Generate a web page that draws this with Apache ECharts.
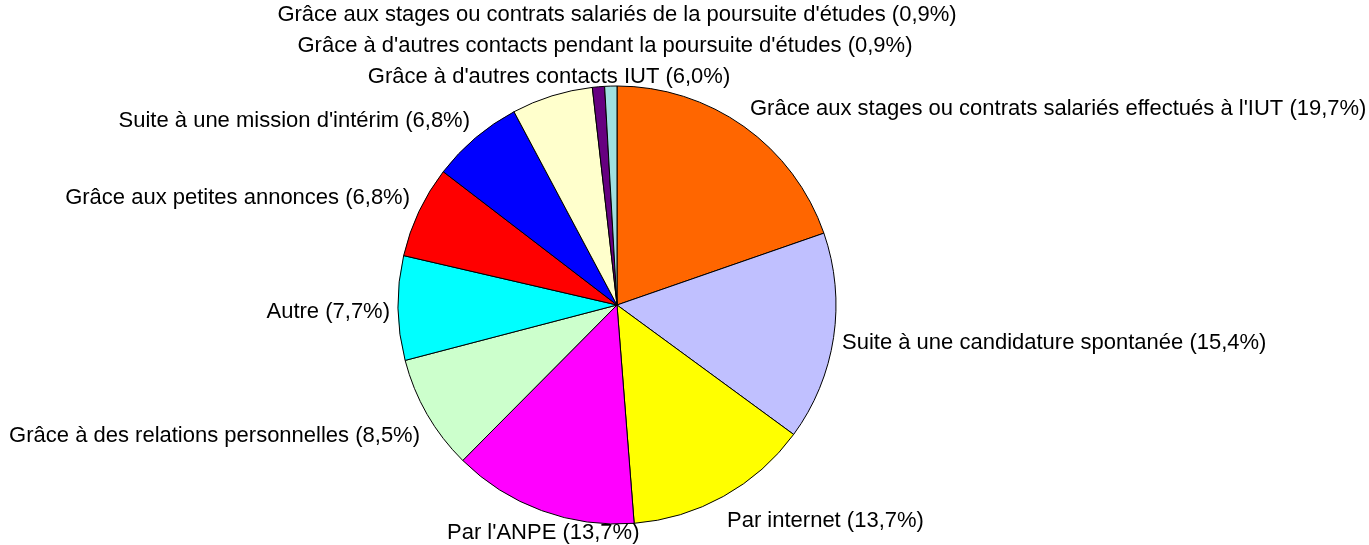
<!DOCTYPE html>
<html>
<head>
<meta charset="utf-8">
<script src="https://cdn.jsdelivr.net/npm/echarts@6/dist/echarts.min.js"></script>
<style>
  html, body { margin: 0; padding: 0; background: #fff; }
  #pie { width: 1369px; height: 545px; }
</style>
</head>
<body>
<div id="pie"></div>
<script>
const categories = [
  "Grâce aux stages ou contrats salariés effectués à l'IUT",
  'Suite à une candidature spontanée',
  'Par internet',
  "Par l'ANPE",
  'Grâce à des relations personnelles',
  'Autre',
  'Grâce aux petites annonces',
  "Suite à une mission d'intérim",
  "Grâce à d'autres contacts IUT",
  "Grâce à d'autres contacts pendant la poursuite d'études",
  "Grâce aux stages ou contrats salariés de la poursuite d'études",
]
const values = [19.7, 15.4, 13.7, 13.7, 8.5, 7.7, 6.8, 6.8, 6.0, 0.9, 0.9]
const colors = ['#ff6600', '#c0c0ff', '#ffff00', '#ff00ff', '#ccffcc', '#00ffff', '#ff0000', '#0000ff', '#ffffcc', '#660080', '#a0e0e0']

// label anchor (x, y, align) for each slice, as in the original
const labelSpots = [
  [750, 109, 'left'],
  [842, 343, 'left'],
  [727, 521, 'left'],
  [447, 533, 'left'],
  [420, 436, 'right'],
  [390, 312, 'right'],
  [410, 198, 'right'],
  [470, 121, 'right'],
  [549, 77, 'center'],
  [605, 46, 'center'],
  [617, 15, 'center'],
]

var myChart = echarts.init(document.getElementById('pie'))

var option = {
  animation: false,
  series: [
    {
      type: 'pie',
      center: [617, 305],
      radius: 219,
      startAngle: 90,
      clockwise: true,
      avoidLabelOverlap: false,
      itemStyle: {
        borderColor: '#000',
        borderWidth: 1,
      },
      label: {
        show: true,
        position: 'outside',
        fontFamily: 'Liberation Sans, Arial, sans-serif',
        fontSize: 22,
        color: '#000',
        formatter: (p) => p.name + ' (' + p.value.toFixed(1).replace('.', ',') + '%)',
      },
      labelLine: { show: false },
      labelLayout: (params) => {
        const s = labelSpots[params.dataIndex]
        return { x: s[0], y: s[1], align: s[2], verticalAlign: 'middle' }
      },
      emphasis: { disabled: true },
      data: categories.map((name, i) => ({
        name: name,
        value: values[i],
        itemStyle: { color: colors[i] },
      })),
    },
  ],
}

myChart.setOption(option)
</script>
</body>
</html>
